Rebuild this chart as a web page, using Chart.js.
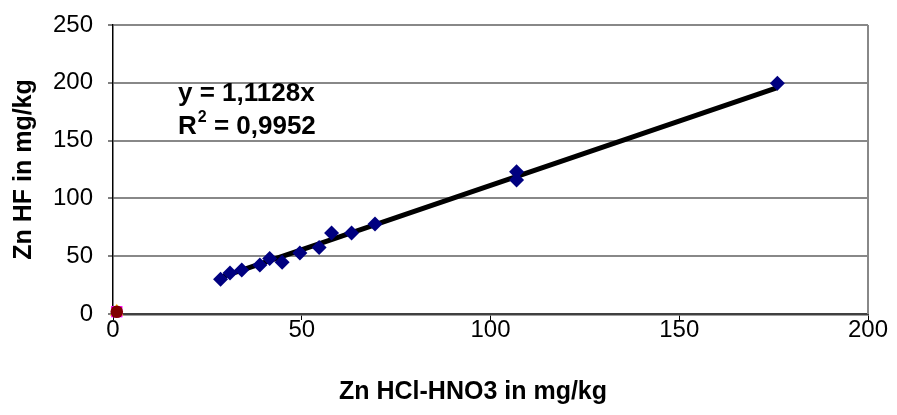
<!DOCTYPE html>
<html>
<head>
<meta charset="utf-8">
<script src="https://cdn.jsdelivr.net/npm/chart.js@4.4.1/dist/chart.umd.min.js"></script>
<style>
  html, body { margin: 0; padding: 0; background: #fff; }
  #wrap { width: 897px; height: 415px; }
</style>
</head>
<body>
<div id="wrap"><canvas id="myChart"></canvas></div>
<script>
// data
var hclX = [28.5, 31.0, 34.1, 38.9, 41.5, 44.8, 49.5, 54.6, 57.9, 63.2, 69.4, 106.9, 106.9, 176.0];
var hfY = [30.0, 35.5, 38.0, 42.4, 48.0, 44.8, 52.8, 57.5, 70.0, 70.0, 77.9, 123.0, 116.0, 199.6];
var zeroX = [1];
var zeroY = [2];
var slope = 1.1128;
var xTicks = [0, 50, 100, 150, 200];
var yTicks = [0, 50, 100, 150, 200, 250];

var font = '"Liberation Sans", Arial, sans-serif';

var points = hclX.map(function(x, i) { return { x: x, y: hfY[i] }; });
var zeroPts = zeroX.map(function(x, i) { return { x: x, y: zeroY[i] }; });

// Trendline durch den Ursprung, von min bis max x
var minX = Math.min.apply(null, hclX);
var maxX = Math.max.apply(null, hclX);
var trend = [{ x: minX, y: slope * minX }, { x: maxX, y: slope * maxX }];

// Rahmen rechts, x-Titel + Gleichung
var extras = {
    id: 'extras',
    afterDraw: function(chart) {
        var ctx = chart.ctx;
        var a = chart.chartArea;
        ctx.save();
        ctx.strokeStyle = '#888';
        ctx.lineWidth = 2;
        ctx.beginPath();
        ctx.moveTo(a.right, a.top);
        ctx.lineTo(a.right, a.bottom);
        ctx.stroke();

        ctx.fillStyle = '#000';
        ctx.textBaseline = 'middle';
        ctx.textAlign = 'center';
        ctx.font = 'bold 25px ' + font;
        ctx.fillText('Zn HCl-HNO3 in mg/kg', 473, 392);

        ctx.textBaseline = 'alphabetic';
        ctx.textAlign = 'left';
        ctx.font = 'bold 26px ' + font;
        ctx.fillText('y = 1,1128x', 178, 101);
        ctx.fillText('R', 178, 134);
        var w = ctx.measureText('R').width;
        ctx.font = 'bold 16px ' + font;
        ctx.fillText('2', 178 + w + 1, 122);
        var w2 = ctx.measureText('2').width;
        ctx.font = 'bold 26px ' + font;
        ctx.fillText(' = 0,9952', 178 + w + w2 + 1, 134);
        ctx.restore();
    }
};

var ctx = document.getElementById('myChart').getContext('2d');
window.myChart = new Chart(ctx, {
    type: 'scatter',
    data: {
        datasets: [{
                type: 'line',
                data: trend,
                borderColor: '#000',
                borderWidth: 5,
                pointRadius: 0,
                fill: false,
                order: 2
            },
            {
                data: points,
                pointStyle: 'rectRot',
                pointRadius: 7.5,
                backgroundColor: '#000080',
                borderColor: '#000080',
                borderWidth: 0,
                order: 1
            },
            {
                data: zeroPts,
                pointStyle: 'triangle',
                pointRadius: 8,
                backgroundColor: '#FFCC00',
                borderWidth: 0,
                clip: false,
                order: 5
            },
            {
                data: zeroPts,
                pointStyle: 'rect',
                pointRadius: 8,
                backgroundColor: '#FF00FF',
                borderWidth: 0,
                clip: false,
                order: 4
            },
            {
                data: zeroPts,
                pointStyle: 'circle',
                pointRadius: 6.3,
                backgroundColor: '#800000',
                borderWidth: 0,
                clip: false,
                order: 3
            }
        ]
    },
    options: {
        responsive: true,
        maintainAspectRatio: false,
        animation: false,
        layout: { padding: { top: 25, right: 29, left: 0, bottom: 0 } },
        plugins: {
            legend: { display: false },
            tooltip: { enabled: false }
        },
        scales: {
            x: {
                type: 'linear',
                min: 0,
                max: 200,
                afterBuildTicks: function(s) { s.ticks = xTicks.map(function(v) { return { value: v }; }); },
                afterFit: function(s) { s.height = 101; },
                grid: { drawOnChartArea: false, drawTicks: true, tickLength: 6, tickColor: '#000', tickWidth: 1 },
                border: { color: '#404040', width: 2.5 },
                ticks: { color: '#000', font: { family: font, size: 24 }, padding: -4, maxRotation: 0 },
                title: { display: false }
            },
            y: {
                type: 'linear',
                min: 0,
                max: 250,
                afterBuildTicks: function(s) { s.ticks = yTicks.map(function(v) { return { value: v }; }); },
                afterFit: function(s) {
                    s.width = 113;
                    s.paddingTop = 0;
                    s.paddingBottom = 0;
                },
                grid: { color: '#888', lineWidth: 2, drawTicks: true, tickLength: 5, tickColor: '#000', tickWidth: 1 },
                border: { color: '#000', width: 1.5 },
                ticks: { color: '#000', font: { family: font, size: 24 }, padding: 15 },
                title: {
                    display: true,
                    text: 'Zn HF in mg/kg',
                    color: '#000',
                    font: { family: font, size: 25, weight: 'bold' },
                    padding: { top: 9, bottom: 0 }
                }
            }
        }
    },
    plugins: [extras]
});
</script>
</body>
</html>
